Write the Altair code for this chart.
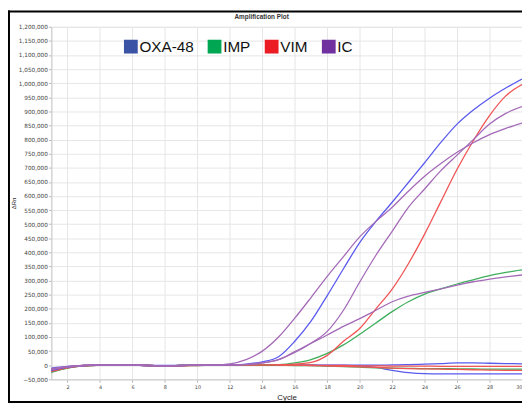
import altair as alt
import pandas as pd

# ---- data (ΔRn in thousands) ----
cycles = list(range(1, 31))

oxa48_pos = [-18, -7, -1, 1, 1, 0, -1, -2, -1, 0, 0, 1, 4, 12, 30, 85, 156, 247, 342, 435,
             510, 578, 648, 718, 790, 855, 905, 947, 983, 1015]
vim_pos = [-22, -9, -2, 0, 1, 0, -1, -2, -2, -1, 0, 0, 0, 1, 2, 4, 10, 35, 85, 130,
           200, 270, 360, 465, 580, 695, 796, 885, 955, 995]
imp_pos = [-25, -10, -2, 0, 1, 0, -1, -2, -1, -1, 0, 0, 0, 1, 2, 8, 20, 42, 72, 110,
           150, 190, 225, 252, 271, 288, 303, 318, 329, 338]
ic_a = [-12, -5, -1, 1, 1, 0, -1, -2, -1, 0, 1, 5, 20, 50, 100, 167, 240, 315, 385, 455,
        510, 560, 617, 670, 715, 755, 789, 818, 840, 859]
ic_b = [-14, -6, -1, 1, 1, 0, -1, -2, -1, 0, 0, 1, 3, 8, 20, 45, 78, 120, 195, 295,
        390, 475, 560, 625, 690, 745, 800, 855, 893, 917]
ic_c = [-16, -6, -1, 1, 1, 0, -1, -2, -1, 0, 0, 1, 2, 8, 20, 48, 78, 107, 138, 165,
        195, 225, 245, 258, 271, 284, 296, 305, 313, 320]
oxa48_neg1 = [-20, -8, -2, 0, 1, 0, -1, -2, -1, 0, 0, 0, 0, 0, 0, 0, 0, -1, -1, -2,
              -8, -18, -26, -30, -31, -31, -31, -31, -31, -31]
oxa48_neg2 = [-10, -4, -1, 1, 1, 0, -1, -1, -1, 0, 0, 0, 0, 0, 0, 0, 0, 0, 0, 0,
              0, 1, 2, 4, 6, 8, 8, 7, 6, 5]
imp_neg = [-24, -9, -2, 0, 1, 0, -1, -2, -1, 0, 0, 0, 0, 0, 0, -1, -1, -3, -5, -7,
           -9, -10, -11, -12, -12, -13, -13, -14, -14, -14]
vim_neg1 = [-15, -6, -1, 1, 1, 0, -1, -2, -1, 0, 0, 0, 0, 0, 0, 0, 0, -1, -1, -2,
            -2, -3, -3, -3, -4, -4, -4, -4, -4, -4]
vim_neg2 = [-22, -8, -2, 0, 1, 0, -1, -2, -1, 0, 0, 0, 0, 0, 0, 0, -1, -2, -4, -6,
            -8, -10, -12, -13, -14, -15, -16, -17, -18, -18]

series_names = ["OXA-48", "IMP", "VIM", "IC"]
legend_colors = ["#3A53A4", "#00A651", "#EC1C24", "#7030A0"]
line_colors = ["#5A5AEE", "#3FAE5C", "#F05454", "#A46AB8"]

x_ticks = list(range(2, 31, 2))
y_ticks = list(range(-50000, 1200001, 50000))

traces = [
    ("w1_oxa_neg", "OXA-48", oxa48_neg1),
    ("w2_oxa_neg", "OXA-48", oxa48_neg2),
    ("w1_imp_neg", "IMP", imp_neg),
    ("w1_vim_neg", "VIM", vim_neg1),
    ("w2_vim_neg", "VIM", vim_neg2),
    ("w3_imp", "IMP", imp_pos),
    ("w2_vim", "VIM", vim_pos),
    ("w1_oxa", "OXA-48", oxa48_pos),
    ("w1_ic", "IC", ic_a),
    ("w2_ic", "IC", ic_b),
    ("w3_ic", "IC", ic_c),
]

rows = []
for order, (well, series, vals) in enumerate(traces):
    for c, v in zip(cycles, vals):
        rows.append({"well": well, "series": series, "cycle": c,
                     "drn": v * 1000, "ord": order})
df = pd.DataFrame(rows)
legend_df = pd.DataFrame({"series": series_names})

W, H = 478, 358
FONT = "Liberation Sans"
TICKFONT = "DejaVu Sans"

lines = alt.Chart(df).mark_line(interpolate="monotone", strokeWidth=1.3).encode(
    x=alt.X("cycle:Q",
            scale=alt.Scale(domain=[1, 30], nice=False, zero=False),
            axis=alt.Axis(values=x_ticks, title="Cycle", format="d",
                          labelFontSize=5, labelColor="#444", labelPadding=2,
                          tickSize=3, tickColor="#bbb", domainColor="#ccc",
                          titleFontSize=8, titleFontWeight="normal",
                          titlePadding=5, titleColor="#222",
                          gridColor="#e6e6e6", labelFont=TICKFONT, titleFont=FONT)),
    y=alt.Y("drn:Q",
            scale=alt.Scale(domain=[-50000, 1200000], nice=False),
            axis=alt.Axis(values=y_ticks, title="ΔRn", format=",.0f",
                          labelFontSize=5.8, labelColor="#444", labelPadding=1,
                          tickSize=3, tickColor="#bbb", domainColor="#ccc",
                          titleFontSize=6, titleFontWeight="normal",
                          titlePadding=2, titleColor="#222",
                          gridColor="#e6e6e6", labelFont=TICKFONT, titleFont=FONT)),
    stroke=alt.Stroke("series:N",
                      scale=alt.Scale(domain=series_names, range=line_colors),
                      legend=None),
    detail="well:N",
    order="ord:Q",
)

legend_layer = alt.Chart(legend_df).mark_square(size=0, opacity=0).encode(
    fill=alt.Fill("series:N",
                  scale=alt.Scale(domain=series_names, range=legend_colors),
                  sort=series_names,
                  legend=alt.Legend(orient="none", legendX=73, legendY=12,
                                    direction="horizontal", title=None,
                                    symbolType="square", symbolSize=196,
                                    symbolOpacity=1, symbolStrokeWidth=0,
                                    labelFontSize=15.5, labelFont=FONT,
                                    labelColor="#111", labelOffset=1,
                                    columnPadding=13, padding=0)),
)

frame_df = pd.DataFrame({"k": [0]})
frame_top = alt.Chart(frame_df).mark_rule(color="black", strokeWidth=2).encode(
    x=alt.value(-44), x2=alt.value(W + 10), y=alt.value(-15.5))
frame_left = alt.Chart(frame_df).mark_rule(color="black", strokeWidth=2).encode(
    x=alt.value(-43), y=alt.value(-16.5), y2=alt.value(382))
frame_bottom = alt.Chart(frame_df).mark_rule(color="black", strokeWidth=2).encode(
    x=alt.value(-44), x2=alt.value(W + 10), y=alt.value(381))

chart = alt.layer(lines, legend_layer, frame_top, frame_left, frame_bottom).properties(
    width=W, height=H,
    autosize=alt.AutoSizeParams(type="none"),
    padding={"left": 44, "top": 16, "right": 0, "bottom": 25},
    title=alt.TitleParams("Amplification Plot", anchor="start", frame="group",
                          dx=186, offset=-11, fontSize=6.5, fontWeight=600,
                          font=FONT, color="#333"),
).resolve_scale(stroke="independent", fill="independent").configure_view(
    stroke=None
).configure(background="white")

chart.save("out.html", embed_options={"renderer": "svg", "actions": False})
